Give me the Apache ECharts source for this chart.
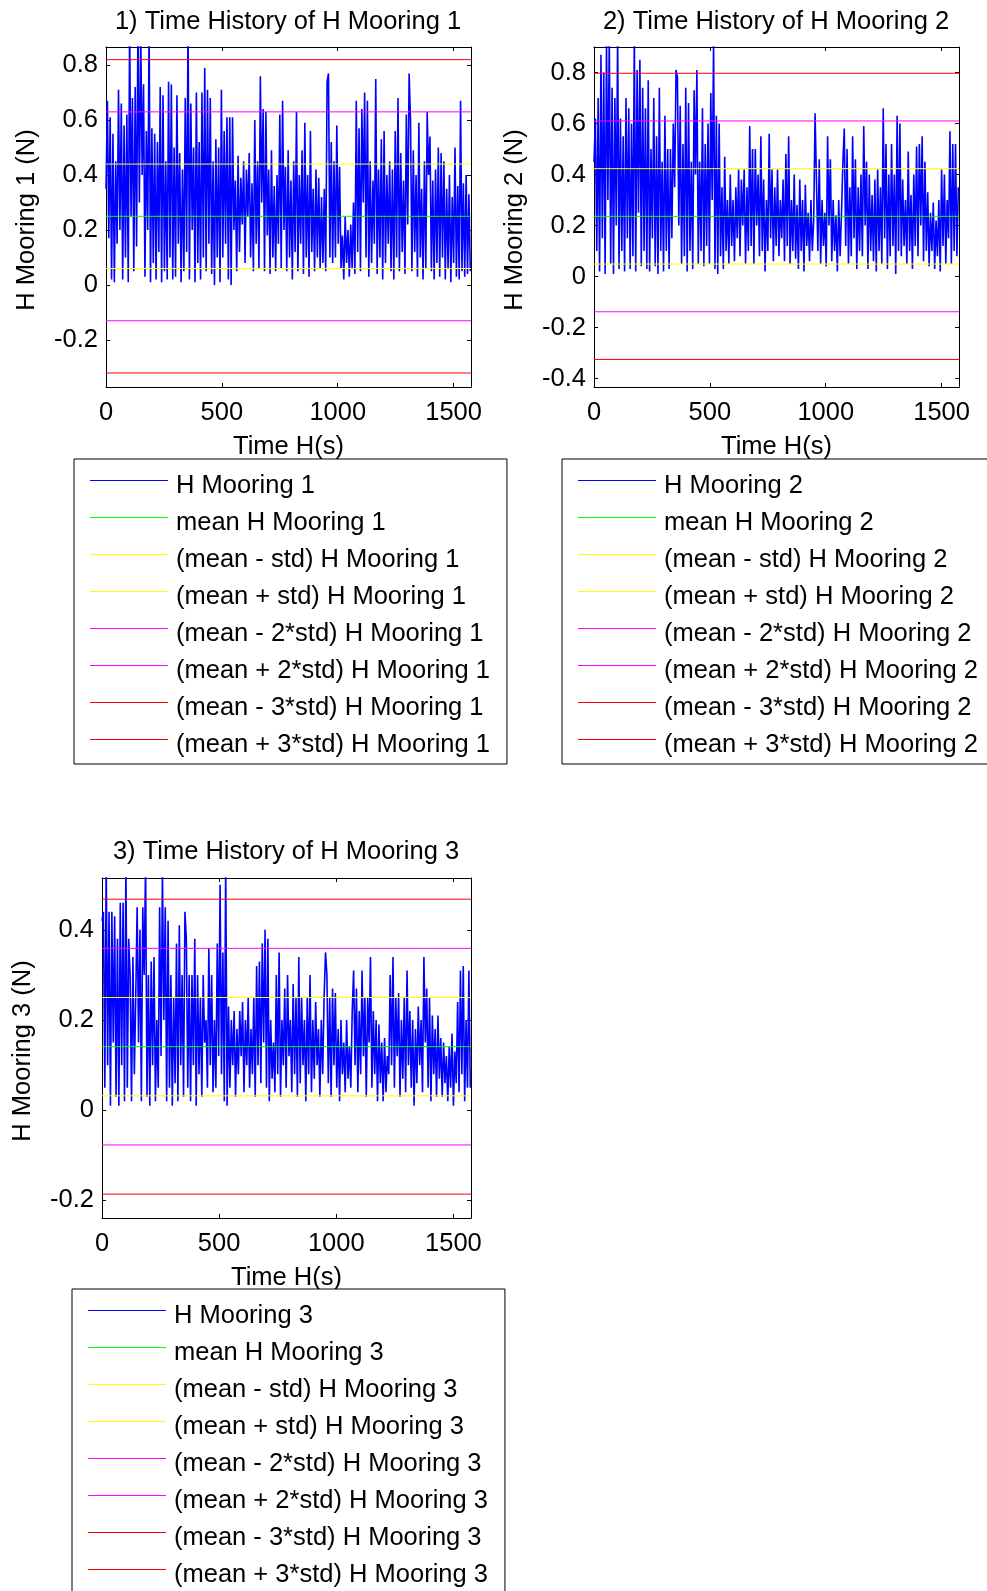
<!DOCTYPE html>
<html>
<head>
<meta charset="utf-8">
<script src="https://cdn.jsdelivr.net/npm/echarts@6/dist/echarts.min.js"></script>
<style>
html, body { margin: 0; padding: 0; background: #ffffff; }
#chart { width: 987px; height: 1591px; }
</style>
</head>
<body>
<div id="chart"></div>
<script>
// ---------------- DATA ----------------
const DT = 6;
const XMAX = 1575;     // end of the time axis (s)

const hMooring1 = [
  0.35,0.67,0.17,0.61,0.02,0.55,0.01,0.45,0.15,0.71,0.20,0.66,0.02,0.58,0.10,0.62,0.01,0.95,0.25,0.68,
  0.05,0.72,0.14,0.98,0.30,0.92,0.40,0.73,0.03,0.56,0.20,0.94,0.01,0.57,0.08,0.55,0.02,0.52,0.12,0.72,
  0.01,0.69,0.05,0.45,0.02,0.74,0.10,0.73,0.02,0.50,0.03,0.69,0.15,0.48,0.01,0.42,0.05,0.68,0.12,0.95,
  0.02,0.66,0.20,0.50,0.01,0.70,0.08,0.52,0.02,0.70,0.10,0.79,0.05,0.71,0.15,0.68,0.04,0.45,0.00,0.53,
  0.10,0.50,0.01,0.71,0.10,0.56,0.15,0.61,0.02,0.61,0.00,0.61,0.20,0.38,0.05,0.47,0.12,0.39,0.22,0.45,
  0.08,0.42,0.25,0.48,0.10,0.37,0.05,0.60,0.15,0.45,0.06,0.76,0.30,0.64,0.05,0.63,0.18,0.42,0.04,0.49,
  0.10,0.36,0.05,0.40,0.15,0.62,0.06,0.67,0.20,0.43,0.05,0.49,0.10,0.38,0.02,0.45,0.12,0.63,0.05,0.40,
  0.15,0.49,0.04,0.59,0.10,0.40,0.03,0.56,0.12,0.35,0.05,0.42,0.10,0.39,0.06,0.32,0.08,0.35,0.05,0.74,
  0.77,0.10,0.52,0.08,0.45,0.10,0.58,0.15,0.43,0.06,0.18,0.02,0.25,0.08,0.20,0.03,0.22,0.06,0.30,0.04,
  0.67,0.12,0.57,0.05,0.64,0.30,0.70,0.10,0.67,0.03,0.45,0.08,0.38,0.15,0.75,0.04,0.42,0.10,0.53,0.02,
  0.56,0.08,0.40,0.15,0.45,0.05,0.42,0.02,0.56,0.10,0.68,0.05,0.48,0.12,0.38,0.04,0.62,0.22,0.77,0.60,
  0.05,0.49,0.12,0.40,0.03,0.59,0.10,0.35,0.02,0.45,0.06,0.63,0.40,0.54,0.05,0.38,0.02,0.42,0.08,0.50,
  0.03,0.48,0.10,0.45,0.02,0.35,0.06,0.40,0.01,0.32,0.08,0.50,0.03,0.36,0.02,0.67,0.05,0.37,0.03,0.40,0.04,0.33,0.05
];

const hMooring2 = [
  0.45,0.62,0.10,0.70,0.02,0.87,0.15,0.80,0.01,0.92,0.30,0.95,0.05,0.74,0.01,0.70,0.20,0.95,0.03,0.62,
  0.10,0.55,0.02,0.70,0.15,0.66,0.03,0.60,0.08,0.95,0.02,0.81,0.25,0.85,0.04,0.74,0.10,0.66,0.03,0.77,
  0.02,0.50,0.15,0.70,0.04,0.55,0.01,0.74,0.10,0.45,0.02,0.63,0.10,0.50,0.03,0.50,0.15,0.60,0.35,0.81,
  0.78,0.20,0.67,0.05,0.52,0.08,0.74,0.02,0.68,0.10,0.45,0.03,0.73,0.40,0.81,0.05,0.45,0.10,0.66,0.04,
  0.52,0.12,0.60,0.05,0.72,0.30,0.92,0.03,0.63,0.01,0.60,0.08,0.35,0.03,0.47,0.10,0.30,0.05,0.40,0.12,
  0.30,0.06,0.35,0.15,0.42,0.08,0.38,0.20,0.42,0.05,0.35,0.10,0.59,0.12,0.50,0.05,0.50,0.20,0.40,0.08,
  0.55,0.10,0.38,0.02,0.30,0.10,0.56,0.15,0.42,0.06,0.35,0.12,0.42,0.08,0.30,0.15,0.38,0.06,0.48,0.12,
  0.55,0.05,0.30,0.10,0.40,0.07,0.28,0.03,0.38,0.10,0.30,0.02,0.36,0.12,0.25,0.06,0.30,0.10,0.22,0.64,
  0.64,0.10,0.46,0.05,0.30,0.12,0.25,0.04,0.55,0.20,0.46,0.06,0.30,0.10,0.24,0.02,0.30,0.08,0.25,0.45,
  0.58,0.12,0.50,0.05,0.35,0.08,0.55,0.15,0.46,0.03,0.35,0.10,0.40,0.08,0.59,0.20,0.45,0.03,0.40,0.10,
  0.32,0.06,0.38,0.02,0.42,0.10,0.35,0.05,0.66,0.15,0.52,0.03,0.40,0.08,0.52,0.12,0.40,0.01,0.63,0.10,
  0.60,0.08,0.38,0.12,0.30,0.05,0.49,0.10,0.32,0.03,0.40,0.12,0.51,0.08,0.52,0.20,0.55,0.06,0.45,0.10,
  0.33,0.04,0.25,0.10,0.29,0.03,0.22,0.08,0.30,0.02,0.42,0.12,0.40,0.05,0.30,0.15,0.57,0.05,0.52,0.10,0.52,0.08,0.35
];

const hMooring3 = [
  0.42,0.44,0.05,0.55,0.10,0.44,0.01,0.44,0.15,0.43,0.03,0.38,0.01,0.46,0.10,0.46,0.02,0.55,0.05,0.38,
  0.30,0.02,0.34,0.08,0.25,0.45,0.15,0.40,0.02,0.45,0.30,0.55,0.03,0.30,0.01,0.33,0.10,0.34,0.02,0.20,
  0.05,0.45,0.12,0.53,0.20,0.45,0.02,0.42,0.05,0.30,0.01,0.25,0.06,0.37,0.02,0.41,0.10,0.30,0.03,0.44,
  0.38,0.05,0.30,0.02,0.30,0.10,0.38,0.01,0.30,0.08,0.25,0.03,0.30,0.15,0.20,0.05,0.36,0.10,0.30,0.04,
  0.20,0.05,0.37,0.12,0.50,0.08,0.35,0.02,0.55,0.01,0.23,0.05,0.20,0.10,0.22,0.03,0.18,0.08,0.22,0.12,
  0.24,0.04,0.20,0.10,0.25,0.05,0.18,0.08,0.25,0.03,0.32,0.10,0.33,0.06,0.37,0.15,0.40,0.05,0.38,0.02,
  0.20,0.07,0.15,0.04,0.30,0.08,0.35,0.03,0.20,0.10,0.27,0.05,0.30,0.12,0.20,0.04,0.28,0.08,0.25,0.03,
  0.34,0.06,0.25,0.10,0.20,0.02,0.25,0.08,0.30,0.04,0.20,0.07,0.24,0.10,0.18,0.03,0.20,0.08,0.25,0.35,
  0.30,0.06,0.25,0.03,0.27,0.10,0.26,0.05,0.18,0.02,0.20,0.08,0.15,0.04,0.20,0.07,0.14,0.05,0.22,0.31,
  0.10,0.27,0.04,0.22,0.08,0.31,0.12,0.25,0.03,0.25,0.15,0.34,0.05,0.22,0.08,0.20,0.02,0.19,0.06,0.15,
  0.02,0.16,0.04,0.12,0.08,0.30,0.10,0.34,0.05,0.25,0.12,0.26,0.03,0.20,0.07,0.25,0.04,0.31,0.10,0.22,
  0.05,0.20,0.01,0.18,0.06,0.23,0.10,0.20,0.04,0.34,0.15,0.27,0.05,0.25,0.02,0.21,0.08,0.18,0.03,0.21,
  0.07,0.16,0.03,0.15,0.06,0.12,0.02,0.14,0.05,0.17,0.01,0.13,0.06,0.24,0.04,0.31,0.08,0.32,0.02,0.20,0.05,0.31,0.05
];

// statistics
const means = [0.250, 0.236, 0.141];
const stds  = [0.190, 0.187, 0.109];

// axis ranges read from the frames
const yMins = [-0.371, -0.433, -0.239];
const yMaxs = [0.866, 0.900, 0.515];
const ySplits = [6, 6, 4];

// texts
const titles = ['1) Time History of H Mooring 1', '2) Time History of H Mooring 2', '3) Time History of H Mooring 3'];
const yNames = ['H Mooring 1 (N)', 'H Mooring 2 (N)', 'H Mooring 3 (N)'];
const xName = 'Time H(s)';
const legendBase = ['H Mooring', 'mean H Mooring', '(mean - std) H Mooring', '(mean + std) H Mooring',
  '(mean - 2*std) H Mooring', '(mean + 2*std) H Mooring', '(mean - 3*std) H Mooring', '(mean + 3*std) H Mooring'];
const stdFactors = [0, 0, -1, 1, -2, 2, -3, 3];
const lineColors = ['#0000ff', '#00ff00', '#ffff00', '#ffff00', '#ff00ff', '#ff00ff', '#ff0000', '#ff0000'];

// ---------------- LAYOUT ----------------
const FONT = '"Liberation Sans", Arial, sans-serif';
const grids = [
  { left: 106, top: 47, width: 365, height: 340 },
  { left: 594, top: 47, width: 365, height: 340 },
  { left: 102, top: 878, width: 369, height: 340 }
];
const titlePos = [[288, 9], [776, 9], [286, 839]];
const legendPos = [[74, 459], [562, 459], [72, 1289]];
const series_all = [hMooring1, hMooring2, hMooring3];
// legend line sample: a 1px bar sitting near the top of a 78x12 icon box
const LEGEND_ICON = 'path://M0,0H78V1H0Z M0,12L0,12';

const txt = { fontSize: 25.5, color: '#000', fontFamily: FONT, fontWeight: 'normal' };
const axLine = { show: true, onZero: false, lineStyle: { color: '#000', width: 1 } };
const axTick = { show: true, inside: true, length: 4, lineStyle: { color: '#000', width: 1 } };

const xAxes = [], yAxes = [], series = [], legends = [];
const xFmt = v => (Math.abs(v % 500) < 1e-6 ? String(v) : '');
const yFmt = v => {
  const q = v / 0.2;
  if (Math.abs(q - Math.round(q)) > 1e-6) return '';
  const r = Math.round(q) * 0.2;
  return String(+r.toFixed(1));
};

for (let p = 0; p < 3; p++) {
  const base = { gridIndex: p, type: 'value', splitLine: { show: false }, axisLine: axLine, axisTick: axTick };
  xAxes.push(Object.assign({}, base, {
    position: 'bottom', min: 0, max: XMAX, interval: 500,
    axisLabel: { show: true, margin: 13, formatter: xFmt, ...txt },
    name: xName, nameLocation: 'middle', nameGap: 47, nameTextStyle: txt
  }));
  xAxes.push(Object.assign({}, base, {
    position: 'top', min: 0, max: XMAX, interval: 500, axisLabel: { show: false }
  }));
  yAxes.push(Object.assign({}, base, {
    position: 'left', min: yMins[p], max: yMaxs[p], splitNumber: ySplits[p],
    axisLabel: { show: true, margin: 8, formatter: yFmt, ...txt },
    name: yNames[p], nameLocation: 'middle', nameGap: 66, nameRotate: 90,
    nameTextStyle: { ...txt, padding: [0, 6, 0, 0] }
  }));
  yAxes.push(Object.assign({}, base, {
    position: 'right', min: yMins[p], max: yMaxs[p], splitNumber: ySplits[p], axisLabel: { show: false }
  }));

  const names = legendBase.map(b => b + ' ' + (p + 1));
  // time history
  series.push({
    type: 'line', name: names[0], xAxisIndex: 2 * p, yAxisIndex: 2 * p,
    data: series_all[p].map((v, i) => [i * DT, v]),
    symbol: 'none', showSymbol: false, animation: false, z: 2,
    lineStyle: { color: lineColors[0], width: 1.6 }, itemStyle: { color: lineColors[0] }
  });
  // statistic lines
  for (let j = 1; j < 8; j++) {
    const level = means[p] + stdFactors[j] * stds[p];
    series.push({
      type: 'line', name: names[j], xAxisIndex: 2 * p, yAxisIndex: 2 * p,
      data: [[0, level], [XMAX, level]],
      symbol: 'none', showSymbol: false, animation: false, z: 3,
      lineStyle: { color: lineColors[j], width: 1 }, itemStyle: { color: lineColors[j] }
    });
  }
  legends.push({
    orient: 'vertical', left: legendPos[p][0], top: legendPos[p][1], height: 300,
    data: names.map((n, j) => ({ name: n, itemStyle: { color: lineColors[j], borderWidth: 0 } })),
    selectedMode: false,
    icon: LEGEND_ICON, itemWidth: 78, itemHeight: 12, itemGap: 3,
    itemStyle: { borderWidth: 0 },
    padding: [10, 17, 2, 16],
    borderColor: '#000', borderWidth: 1, backgroundColor: '#fff',
    textStyle: { ...txt, lineHeight: 25, padding: [9, 0, 0, 3] }
  });
}

const chart = echarts.init(document.getElementById('chart'), null, { renderer: 'canvas' });
chart.setOption({
  backgroundColor: '#ffffff',
  animation: false,
  title: titles.map((t, p) => ({
    text: t, left: titlePos[p][0], top: titlePos[p][1], textAlign: 'center', padding: 0,
    textStyle: txt
  })),
  grid: grids,
  xAxis: xAxes,
  yAxis: yAxes,
  legend: legends,
  series: series
});
</script>
</body>
</html>
